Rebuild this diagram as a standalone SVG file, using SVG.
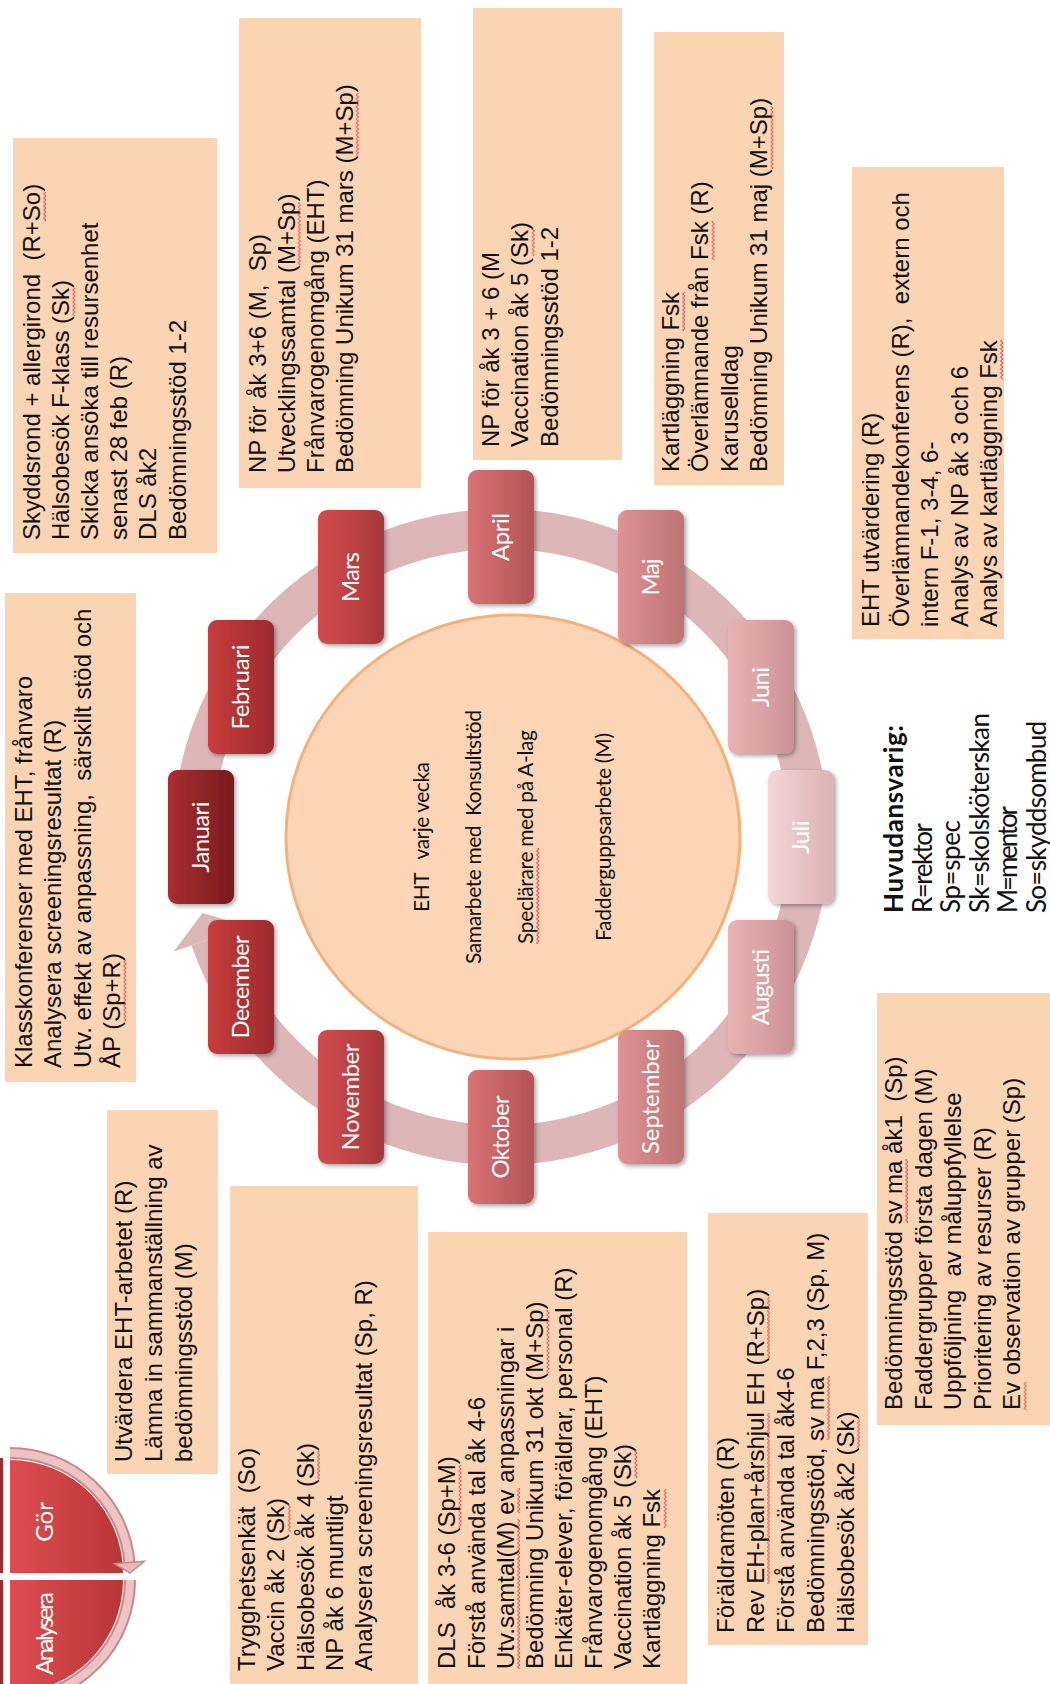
<svg xmlns="http://www.w3.org/2000/svg" width="1050" height="1684" viewBox="0 0 1050 1684">
<style>
.box{fill:#FBD4B4}
.bt{font-family:"Liberation Sans",Arial,sans-serif;font-size:24px;fill:#111}
.mt{font-family:Lato,"Open Sans",sans-serif;font-size:24px;fill:#fff;text-anchor:middle}
.ct{font-family:Lato,"Open Sans",sans-serif;font-size:21px;fill:#111;text-anchor:middle}
.lg{font-family:Lato,"Open Sans",sans-serif;font-size:26px;fill:#111}
.sq{fill:url(#sq)}
.mb{filter:url(#sh)}
</style>
<defs>
<pattern id="sq" width="4" height="8" patternUnits="userSpaceOnUse"><path d="M0,6 L2,3.5 L4,6" fill="none" stroke="#E0262B" stroke-width="0.9"/></pattern>
<filter id="sh" x="-20%" y="-20%" width="150%" height="150%"><feDropShadow dx="2" dy="2" stdDeviation="2" flood-color="#000" flood-opacity="0.35"/></filter>
<linearGradient id="gJan" x1="0" x2="1" y1="0" y2="0"><stop offset="0" stop-color="#A82E30"/><stop offset="1" stop-color="#7A1B1D"/></linearGradient>
<linearGradient id="gFeb" x1="0" x2="1" y1="0" y2="0"><stop offset="0" stop-color="#C73D3D"/><stop offset="1" stop-color="#9C2A2C"/></linearGradient>
<linearGradient id="gMar" x1="0" x2="1" y1="0" y2="0"><stop offset="0" stop-color="#D24C4E"/><stop offset="1" stop-color="#A8373A"/></linearGradient>
<linearGradient id="gApr" x1="0" x2="1" y1="0" y2="0"><stop offset="0" stop-color="#D87274"/><stop offset="1" stop-color="#B25456"/></linearGradient>
<linearGradient id="gMaj" x1="0" x2="1" y1="0" y2="0"><stop offset="0" stop-color="#DE9294"/><stop offset="1" stop-color="#BD7274"/></linearGradient>
<linearGradient id="gJun" x1="0" x2="1" y1="0" y2="0"><stop offset="0" stop-color="#E9B3B4"/><stop offset="1" stop-color="#CB9295"/></linearGradient>
<linearGradient id="gJul" x1="0" x2="1" y1="0" y2="0"><stop offset="0" stop-color="#F4D5D6"/><stop offset="1" stop-color="#DDB2B4"/></linearGradient>
<linearGradient id="gWedge" x1="0" x2="1" y1="0" y2="0"><stop offset="0" stop-color="#DC4D50"/><stop offset="1" stop-color="#B93538"/></linearGradient>
</defs>
<rect width="1050" height="1684" fill="#fff"/>

<!-- connectors: ring arrows -->
<g id="connectors">
  <path d="M193,837 A308,308 0 1 1 210.3,938.8" fill="none" stroke="#DDB7B8" stroke-width="40"/>
  <polygon points="173.5,951.7 247.1,925.9 202.5,913.1" fill="#DDB7B8"/>
</g>

<!-- small PDSA wheel bottom-left -->
<g id="wheel-small">
  <rect x="-2" y="1458" width="5" height="115" fill="#A3282C"/>
  <rect x="-2" y="1580" width="5" height="104" fill="#A3282C"/>
  <g id="node-gor">
    <path d="M10,1573 V1460 A113,113 0 0 1 123,1573 Z" fill="url(#gWedge)"/>
    <path d="M10,1453 A120,120 0 0 1 129.5,1562.5" fill="none" stroke="#C68A8C" stroke-width="12"/>
    <path d="M10,1453 A120,120 0 0 1 129.5,1562.5" fill="none" stroke="#EDC3C4" stroke-width="8"/>
    <polygon points="114.6,1563.8 144.5,1561.2 130,1573" fill="#E9B9BA" stroke="#C68A8C" stroke-width="1.5"/>
    <text class="mt" font-size="19" transform="translate(53,1522) rotate(-90)">Gör</text>
  </g>
  <g id="node-analysera">
    <path d="M10,1580 H123 A113,113 0 0 1 10,1693 Z" fill="url(#gWedge)"/>
    <path d="M130,1580 A120,120 0 0 1 10,1700" fill="none" stroke="#C68A8C" stroke-width="12"/>
    <path d="M130,1580 A120,120 0 0 1 10,1700" fill="none" stroke="#EDC3C4" stroke-width="8"/>
    <text class="mt" font-size="20" transform="translate(53,1633.5) rotate(-90)" textLength="83">Analysera</text>
  </g>
</g>

<!-- center circle -->
<g id="node-center">
  <ellipse cx="513" cy="837" rx="227" ry="222" fill="#FBD5B5" stroke="#F7B07A" stroke-width="3"/>
  <g transform="translate(0,837)">
    <text class="ct" transform="translate(429,0) rotate(-90)" textLength="150">EHT&#160;&#160; varje vecka</text>
    <text class="ct" transform="translate(481,0) rotate(-90)" textLength="254">Samarbete med&#160; Konsultstöd</text>
    <g transform="translate(533,0) rotate(-90)">
      <text class="ct" textLength="214">Speclärare med på A-lag</text>
      <rect class="sq" x="-107" y="2" width="96" height="4"/>
    </g>
    <text class="ct" transform="translate(611,0) rotate(-90)" textLength="208">Fadderguppsarbete (M)</text>
  </g>
</g>

<!-- month nodes -->
<g id="node-januari"><rect class="mb" x="168" y="770" width="66" height="134" rx="9" fill="url(#gJan)"/><text class="mt" transform="translate(209,837) rotate(-90)" textLength="71">Januari</text></g>
<g id="node-februari"><rect class="mb" x="208" y="620" width="66" height="134" rx="9" fill="url(#gFeb)"/><text class="mt" transform="translate(249,687) rotate(-90)" textLength="85">Februari</text></g>
<g id="node-mars"><rect class="mb" x="318" y="510" width="66" height="134" rx="9" fill="url(#gMar)"/><text class="mt" transform="translate(359,577) rotate(-90)" textLength="50">Mars</text></g>
<g id="node-april"><rect class="mb" x="468" y="470" width="66" height="134" rx="9" fill="url(#gApr)"/><text class="mt" transform="translate(509,537) rotate(-90)" textLength="48">April</text></g>
<g id="node-maj"><rect class="mb" x="618" y="510" width="66" height="134" rx="9" fill="url(#gMaj)"/><text class="mt" transform="translate(659,577) rotate(-90)" textLength="37">Maj</text></g>
<g id="node-juni"><rect class="mb" x="728" y="620" width="66" height="134" rx="9" fill="url(#gJun)"/><text class="mt" transform="translate(769,687) rotate(-90)" textLength="40">Juni</text></g>
<g id="node-juli"><rect class="mb" x="768" y="770" width="66" height="134" rx="9" fill="url(#gJul)"/><text class="mt" transform="translate(809,837) rotate(-90)" textLength="33">Juli</text></g>
<g id="node-augusti"><rect class="mb" x="728" y="920" width="66" height="134" rx="9" fill="url(#gJun)"/><text class="mt" transform="translate(769,987) rotate(-90)" textLength="76">Augusti</text></g>
<g id="node-september"><rect class="mb" x="618" y="1030" width="66" height="134" rx="9" fill="url(#gMaj)"/><text class="mt" transform="translate(659,1097) rotate(-90)" textLength="114">September</text></g>
<g id="node-oktober"><rect class="mb" x="468" y="1070" width="66" height="134" rx="9" fill="url(#gApr)"/><text class="mt" transform="translate(509,1137) rotate(-90)" textLength="83">Oktober</text></g>
<g id="node-november"><rect class="mb" x="318" y="1030" width="66" height="134" rx="9" fill="url(#gMar)"/><text class="mt" transform="translate(359,1097) rotate(-90)" textLength="107">November</text></g>
<g id="node-december"><rect class="mb" x="208" y="920" width="66" height="134" rx="9" fill="url(#gFeb)"/><text class="mt" transform="translate(249,987) rotate(-90)" textLength="103">December</text></g>

<!-- text boxes -->
<g id="box-februari">
  <rect class="box" x="13" y="138" width="204" height="415"/>
  <g transform="translate(40,540) rotate(-90)">
    <text class="bt"><tspan x="0" y="0">Skyddsrond + allergirond&#160; (R+So)</tspan><tspan x="0" y="29.1">Hälsobesök F-klass (Sk)</tspan><tspan x="0" y="58.2">Skicka ansöka till resursenhet</tspan><tspan x="0" y="87.3">senast 28 feb (R)</tspan><tspan x="0" y="116.4">DLS åk2</tspan><tspan x="0" y="145.5">Bedömningsstöd 1-2</tspan></text>
    <rect class="sq" x="319" y="3" width="29" height="4"/>
    <rect class="sq" x="224" y="3" width="28" height="4" transform="translate(0,29.1)"/>
  </g>
</g>

<g id="box-mars">
  <rect class="box" x="239" y="18" width="182" height="470"/>
  <g transform="translate(265.5,473) rotate(-90)">
    <text class="bt"><tspan x="0" y="0">NP för åk 3+6 (M,&#160; Sp)</tspan><tspan x="0" y="29">Utvecklingssamtal (M+Sp)</tspan><tspan x="0" y="58">Frånvarogenomgång (EHT)</tspan><tspan x="0" y="87">Bedömning Unikum 31 mars (M+Sp)</tspan></text>
    <rect class="sq" x="208" y="3" width="63" height="4" transform="translate(0,29)"/>
    <rect class="sq" x="317" y="3" width="63" height="4" transform="translate(0,87)"/>
  </g>
</g>

<g id="box-april">
  <rect class="box" x="473" y="8" width="149" height="452"/>
  <g transform="translate(498.7,447) rotate(-90)">
    <text class="bt"><tspan x="0" y="0">NP för åk 3 + 6 (M</tspan><tspan x="0" y="29.7">Vaccination åk 5 (Sk)</tspan><tspan x="0" y="59.4">Bedömningsstöd 1-2</tspan></text>
    <rect class="sq" x="191" y="3" width="28" height="4" transform="translate(0,29.7)"/>
  </g>
</g>

<g id="box-maj">
  <rect class="box" x="654" y="32" width="130" height="453"/>
  <g transform="translate(679,472) rotate(-90)">
    <text class="bt"><tspan x="0" y="0">Kartläggning Fsk</tspan><tspan x="0" y="29.4">Överlämnande från Fsk (R)</tspan><tspan x="0" y="58.8">Karuselldag</tspan><tspan x="0" y="88.2">Bedömning Unikum 31 maj (M+Sp)</tspan></text>
    <rect class="sq" x="141" y="3" width="39" height="4"/>
    <rect class="sq" x="212" y="3" width="39" height="4" transform="translate(0,29.4)"/>
    <rect class="sq" x="303" y="3" width="63" height="4" transform="translate(0,88.2)"/>
  </g>
</g>

<g id="box-juni">
  <rect class="box" x="852" y="167" width="152" height="472"/>
  <g transform="translate(879,627) rotate(-90)">
    <text class="bt"><tspan x="0" y="0">EHT utvärdering (R)</tspan><tspan x="0" y="29.5">Överlämnandekonferens (R),&#160; extern och</tspan><tspan x="0" y="59">intern F-1, 3-4, 6-</tspan><tspan x="0" y="88.5">Analys av NP åk 3 och 6</tspan><tspan x="0" y="118">Analys av kartläggning Fsk</tspan></text>
    <rect class="sq" x="248" y="3" width="39" height="4" transform="translate(0,118)"/>
  </g>
</g>

<g id="box-januari">
  <rect class="box" x="5" y="593" width="131" height="489"/>
  <g transform="translate(32,1068) rotate(-90)">
    <text class="bt"><tspan x="0" y="0">Klasskonferenser med EHT, frånvaro</tspan><tspan x="0" y="29.4">Analysera screeningsresultat (R)</tspan><tspan x="0" y="58.8">Utv. effekt av anpassning,&#160; särskilt stöd och</tspan><tspan x="0" y="88.2">ÅP (Sp+R)</tspan></text>
    <rect class="sq" x="47" y="3" width="61" height="4" transform="translate(0,88.2)"/>
  </g>
</g>

<g id="box-december">
  <rect class="box" x="107" y="1110" width="111" height="364"/>
  <g transform="translate(132,1462) rotate(-90)">
    <text class="bt"><tspan x="0" y="0">Utvärdera EHT-arbetet (R)</tspan><tspan x="0" y="30">Lämna in sammanställning av</tspan><tspan x="0" y="60">bedömningsstöd (M)</tspan></text>
  </g>
</g>

<g id="box-november">
  <rect class="box" x="230" y="1186" width="188" height="498"/>
  <g transform="translate(255.3,1671) rotate(-90)">
    <text class="bt"><tspan x="0" y="0">Trygghetsenkät&#160; (So)</tspan><tspan x="0" y="29.2">Vaccin åk 2 (Sk)</tspan><tspan x="0" y="58.4">Hälsobesök åk 4 (Sk)</tspan><tspan x="0" y="87.6">NP åk 6 muntligt</tspan><tspan x="0" y="116.8">Analysera screeningsresultat (Sp, R)</tspan></text>
    <rect class="sq" x="139" y="3" width="28" height="4" transform="translate(0,29.2)"/>
    <rect class="sq" x="192" y="3" width="28" height="4" transform="translate(0,58.4)"/>
  </g>
</g>

<g id="box-oktober">
  <rect class="box" x="428" y="1232" width="259" height="452"/>
  <g transform="translate(455.3,1669) rotate(-90)">
    <text class="bt"><tspan x="0" y="0">DLS&#160; åk 3-6 (Sp+M)</tspan><tspan x="0" y="29.3">Förstå använda tal åk 4-6</tspan><tspan x="0" y="58.6">Utv.samtal(M) ev anpassningar i</tspan><tspan x="0" y="87.9">Bedömning Unikum 31 okt (M+Sp)</tspan><tspan x="0" y="117.2">Enkäter-elever, föräldrar, personal (R)</tspan><tspan x="0" y="146.5">Frånvarogenomgång (EHT)</tspan><tspan x="0" y="175.8">Vaccination åk 5 (Sk)</tspan><tspan x="0" y="205.1">Kartläggning Fsk</tspan></text>
    <rect class="sq" x="141" y="3" width="63" height="4"/>
    <rect class="sq" x="0" y="3" width="150" height="4" transform="translate(0,58.6)"/>
    <rect class="sq" x="156" y="3" width="25" height="4" transform="translate(0,58.6)"/>
    <rect class="sq" x="296" y="3" width="63" height="4" transform="translate(0,87.9)"/>
    <rect class="sq" x="191" y="3" width="28" height="4" transform="translate(0,175.8)"/>
    <rect class="sq" x="141" y="3" width="39" height="4" transform="translate(0,205.1)"/>
  </g>
</g>

<g id="box-september">
  <rect class="box" x="708" y="1213" width="160" height="432"/>
  <g transform="translate(733.7,1633) rotate(-90)">
    <text class="bt"><tspan x="0" y="0">Föräldramöten (R)</tspan><tspan x="0" y="30">Rev EH-plan+årshjul EH (R+Sp)</tspan><tspan x="0" y="60">Förstå använda tal åk4-6</tspan><tspan x="0" y="90">Bedömningsstöd, sv ma F,2,3 (Sp, M)</tspan><tspan x="0" y="120">Hälsobesök åk2 (Sk)</tspan></text>
    <rect class="sq" x="49" y="3" width="171" height="4" transform="translate(0,30)"/>
    <rect class="sq" x="275" y="3" width="61" height="4" transform="translate(0,30)"/>
    <rect class="sq" x="193" y="3" width="64" height="4" transform="translate(0,90)"/>
    <rect class="sq" x="185" y="3" width="28" height="4" transform="translate(0,120)"/>
  </g>
</g>

<g id="box-augusti">
  <rect class="box" x="877" y="993" width="173" height="432"/>
  <g transform="translate(902,1410) rotate(-90)">
    <text class="bt"><tspan x="0" y="0">Bedömningsstöd sv ma åk1&#160; (Sp)</tspan><tspan x="0" y="29.6">Faddergrupper första dagen (M)</tspan><tspan x="0" y="59.2">Uppföljning&#160; av måluppfyllelse</tspan><tspan x="0" y="88.8">Prioritering av resurser (R)</tspan><tspan x="0" y="118.4">Ev observation av grupper (Sp)</tspan></text>
    <rect class="sq" x="187" y="3" width="64" height="4"/>
    <rect class="sq" x="0" y="3" width="28" height="4" transform="translate(0,118.4)"/>
  </g>
</g>

<g id="legend">
  <g transform="translate(903,913) rotate(-90)">
    <text class="lg" font-weight="bold" x="0" y="0" textLength="188">Huvudansvarig:</text>
    <text class="lg" x="0" y="28.5" textLength="90">R=rektor</text>
    <text class="lg" x="0" y="57" textLength="93">Sp=spec</text>
    <text class="lg" x="0" y="85.5" textLength="200">Sk=skolsköterskan</text>
    <text class="lg" x="0" y="114" textLength="107">M=mentor</text>
    <text class="lg" x="0" y="142.5" textLength="192">So=skyddsombud</text>
  </g>
</g>
</svg>
